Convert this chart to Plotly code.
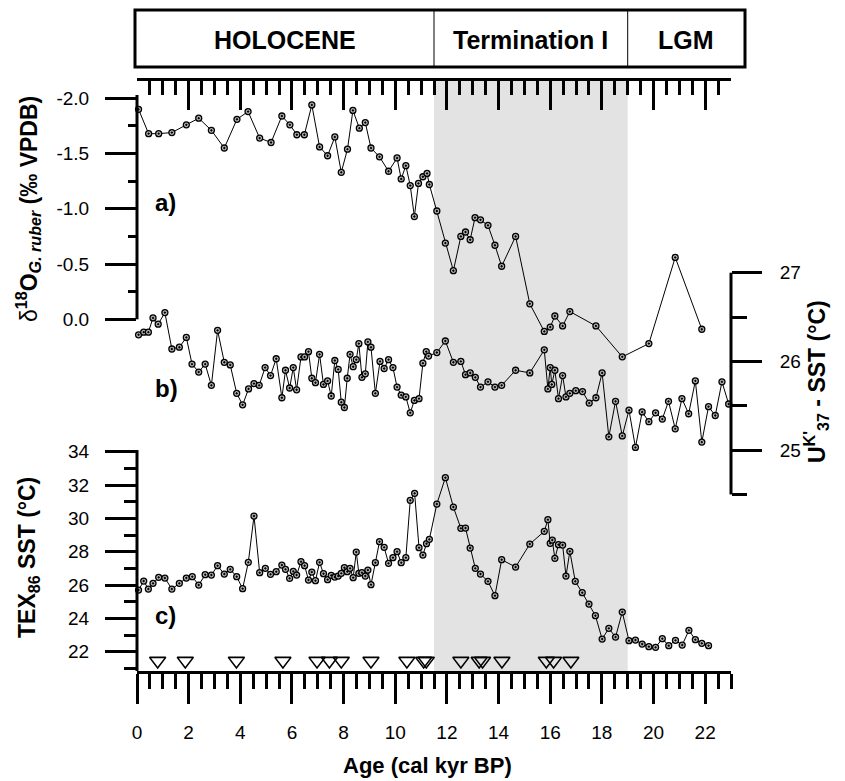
import plotly.graph_objects as go

# ---------------- data ----------------
age_d18o = [0.06,0.45,0.84,1.35,1.91,2.39,2.88,3.38,3.87,4.30,4.75,5.19,5.61,5.92,6.19,6.48,6.77,7.07,7.38,7.66,
            7.91,8.15,8.36,8.61,8.84,9.06,9.39,9.74,10.07,10.23,10.41,10.58,10.74,10.90,11.07,11.23,11.32,11.61,11.94,12.25,
            12.54,12.72,12.90,13.09,13.30,13.59,13.86,14.12,14.66,15.21,15.77,16.00,16.18,16.48,16.76,17.77,18.79,19.82,20.84,21.87]
d18o = [-1.90,-1.68,-1.68,-1.69,-1.76,-1.82,-1.71,-1.55,-1.81,-1.88,-1.64,-1.60,-1.84,-1.76,-1.67,-1.67,-1.94,-1.56,-1.48,-1.65,
        -1.33,-1.54,-1.89,-1.73,-1.78,-1.55,-1.47,-1.34,-1.46,-1.27,-1.39,-1.21,-0.93,-1.23,-1.29,-1.32,-1.22,-0.98,-0.69,-0.44,
        -0.75,-0.79,-0.72,-0.92,-0.90,-0.85,-0.67,-0.48,-0.75,-0.14,0.11,0.07,-0.03,0.06,-0.07,0.06,0.34,0.22,-0.56,0.09]

age_uk = [0.06,0.26,0.44,0.62,0.82,1.08,1.35,1.64,1.91,2.13,2.39,2.64,2.88,3.12,3.38,3.61,3.86,4.09,4.32,4.53,
          4.73,4.96,5.17,5.39,5.61,5.75,5.91,6.05,6.18,6.35,6.49,6.64,6.77,6.91,7.07,7.22,7.38,7.52,7.66,7.79,
          7.91,8.03,8.14,8.25,8.37,8.49,8.59,8.71,8.84,8.94,9.06,9.23,9.41,9.57,9.74,9.91,10.07,10.23,10.41,10.58,
          10.74,10.92,11.07,11.20,11.29,11.61,11.94,12.25,12.54,12.72,12.90,13.10,13.30,13.59,13.86,14.12,14.66,15.21,15.77,15.91,
          16.00,16.06,16.18,16.32,16.48,16.61,16.76,16.99,17.25,17.51,17.77,18.01,18.27,18.53,18.79,19.05,19.30,19.56,19.82,20.08,
          20.34,20.58,20.84,21.10,21.36,21.62,21.87,22.13,22.39,22.65,22.91]
uk37 = [26.30,26.33,26.33,26.49,26.42,26.55,26.14,26.16,26.27,25.97,25.88,25.97,25.73,26.35,25.99,25.96,25.64,25.51,25.69,25.75,
        25.73,25.93,25.84,26.03,25.59,25.90,25.70,25.93,25.68,26.05,26.05,26.11,25.81,25.76,26.08,25.74,25.78,25.61,26.01,25.91,
        25.54,25.48,25.81,26.08,25.94,26.02,26.20,25.82,25.86,26.22,26.16,25.64,26.00,25.92,26.02,25.93,25.71,25.62,25.60,25.42,
        25.56,25.58,25.98,26.11,26.06,26.10,26.23,25.99,26.00,25.85,25.87,25.82,25.71,25.77,25.71,25.73,25.90,25.87,26.13,25.69,
        25.93,25.74,25.90,25.58,25.84,25.60,25.64,25.67,25.66,25.53,25.59,25.87,25.15,25.55,25.16,25.45,25.03,25.43,25.32,25.42,
        25.35,25.55,25.24,25.58,25.41,25.78,25.09,25.49,25.39,25.77,25.52]

age_tex = [0.06,0.26,0.44,0.62,0.84,1.08,1.35,1.64,1.91,2.14,2.39,2.64,2.88,3.12,3.38,3.61,3.86,4.09,4.31,4.53,
           4.75,4.97,5.17,5.39,5.61,5.75,5.91,6.05,6.18,6.35,6.49,6.64,6.77,6.91,7.07,7.22,7.38,7.52,7.66,7.79,
           7.91,8.03,8.14,8.25,8.37,8.49,8.59,8.71,8.84,8.94,9.06,9.23,9.39,9.57,9.74,9.91,10.07,10.23,10.41,10.58,
           10.75,10.92,11.07,11.21,11.32,11.61,11.94,12.25,12.54,12.72,12.90,13.10,13.30,13.59,13.86,14.12,14.66,15.21,15.77,15.91,
           16.00,16.08,16.18,16.32,16.48,16.61,16.76,16.97,17.24,17.50,17.75,18.01,18.27,18.53,18.79,19.05,19.30,19.56,19.82,20.08,
           20.34,20.59,20.85,21.11,21.37,21.62,21.87,22.13]
tex86 = [25.70,26.24,25.76,26.10,26.46,26.42,25.76,26.10,26.42,26.50,26.00,26.62,26.60,27.16,26.66,26.94,26.50,25.78,27.36,30.14,
         26.74,27.00,26.64,26.80,27.20,26.94,26.40,26.82,26.60,27.40,27.16,26.30,26.78,26.26,27.36,26.68,26.32,26.58,26.48,26.54,
         26.70,27.04,26.80,27.00,26.44,27.98,26.70,26.74,26.54,26.90,26.02,27.34,28.60,28.26,27.30,27.64,28.00,27.34,27.64,31.08,
         31.50,28.24,27.80,28.48,28.74,30.86,32.44,30.68,29.40,29.42,28.22,27.00,26.66,26.22,25.36,27.52,27.08,28.46,29.22,29.92,
         28.50,28.70,27.60,28.42,28.40,26.54,28.02,26.22,25.54,24.86,24.16,22.76,23.40,22.88,24.38,22.66,22.70,22.46,22.30,22.26,
         22.78,22.36,22.68,22.40,23.28,22.72,22.50,22.36]

dating_ages = [0.80,1.87,3.85,5.65,6.97,7.45,7.91,9.06,10.45,11.10,11.20,12.54,13.25,13.38,14.13,15.85,16.13,16.80]
dating_level = 21.45

period_names = ["HOLOCENE", "Termination I", "LGM"]
period_bounds = [11.5, 19.0]          # kyr BP
shade_range = [11.5, 19.0]

x_ticks = list(range(0, 23, 2))
d18o_ticks = [-2.0, -1.5, -1.0, -0.5, 0.0]
uk_ticks = [25, 26, 27]
tex_ticks = [22, 24, 26, 28, 30, 32, 34]

# ---------------- layout geometry (page pixels; page body has an 8px margin) ----------------
BODY = 8
W, H = 845 - 2 * BODY, 781 - BODY
P_L, P_R, P_T, P_B = 137, 731, 81, 671          # plot area in page pixels
L, T = P_L - BODY, P_T - BODY
R = W - (P_R - BODY)
B = H - (P_B - BODY)


def px(x):
    return (x - P_L) / (P_R - P_L)


def py(y):
    return (P_B - y) / (P_B - P_T)


FONT = "Liberation Sans, Arial, sans-serif"
BLACK = "#000000"

line_style = dict(color=BLACK, width=1)
circ = dict(symbol="circle-dot", size=6, color="#b4b4b4", line=dict(color=BLACK, width=1.3))

fig = go.Figure()

fig.add_trace(go.Scatter(x=age_d18o, y=d18o, mode="lines+markers", line=line_style, marker=circ,
                         yaxis="y", xaxis="x", cliponaxis=False, showlegend=False))
fig.add_trace(go.Scatter(x=age_uk, y=uk37, mode="lines+markers", line=line_style, marker=circ,
                         yaxis="y2", xaxis="x", cliponaxis=False, showlegend=False))
fig.add_trace(go.Scatter(x=age_tex, y=tex86, mode="lines+markers", line=line_style, marker=circ,
                         yaxis="y3", xaxis="x", cliponaxis=False, showlegend=False))
fig.add_trace(go.Scatter(x=dating_ages, y=[dating_level] * len(dating_ages), mode="markers",
                         marker=dict(symbol="triangle-down-open", size=14, color=BLACK, line=dict(width=1.6)),
                         yaxis="y3", xaxis="x", cliponaxis=False, showlegend=False))
# dummy trace so the top (mirror) axis exists
fig.add_trace(go.Scatter(x=[], y=[], xaxis="x2", yaxis="y", showlegend=False))

tickfont = dict(family=FONT, size=19, color=BLACK)

# y-axis ranges such that values land on the right pixel rows
y1_range = [-2.0 + (P_B - 98.3) / 110.5, -2.0 + (P_T - 98.3) / 110.5]
y2_range = [27 - (P_B - 272.7) / 88.7, 27 - (P_T - 272.7) / 88.7]
y3_range = [34 - (P_B - 451.7) / 16.667, 34 - (P_T - 451.7) / 16.667]

common_y = dict(domain=[0, 1], showgrid=False, zeroline=False, showline=False, ticks="outside",
                tickwidth=2.5, tickcolor=BLACK, tickfont=tickfont, tickmode="array")
minor_x = [v / 2 for v in range(1, 47) if v % 4 != 0]

fig.update_layout(
    width=W, height=H,
    margin=dict(l=L, r=R, t=T, b=B, pad=0),
    paper_bgcolor="white", plot_bgcolor="white",
    font=dict(family=FONT, color=BLACK),
    xaxis=dict(range=[0, 23], domain=[0, 1], anchor="y3", showgrid=False, zeroline=False,
               showline=True, linewidth=2.5, linecolor=BLACK, mirror=False,
               ticks="outside", ticklen=30, tickwidth=2.5, tickcolor=BLACK,
               tickmode="array", tickvals=x_ticks, ticktext=[str(v) for v in x_ticks],
               tickfont=dict(family=FONT, size=19, color=BLACK), ticklabelstandoff=12,
               minor=dict(tickmode="array", tickvals=minor_x,
                          ticklen=15, tickwidth=2.5, tickcolor=BLACK, ticks="outside")),
    xaxis2=dict(range=[0, 23], matches="x", overlaying="x", side="top", anchor="y", showgrid=False,
                zeroline=False, showline=True, linewidth=2.5, linecolor=BLACK,
                ticks="inside", ticklen=29, tickwidth=2.5, tickcolor=BLACK, showticklabels=False,
                tickmode="array", tickvals=x_ticks,
                minor=dict(tickmode="array", tickvals=minor_x,
                           ticklen=14, tickwidth=2.5, tickcolor=BLACK, ticks="inside")),
    yaxis=dict(common_y, range=y1_range, anchor="x", side="left", ticklen=31,
               tickvals=d18o_ticks, ticktext=["-2.0", "-1.5", "-1.0", "-0.5", "0.0"], ticklabelstandoff=12,
               minor=dict(tickmode="array", tickvals=[-1.75, -1.25, -0.75, -0.25], ticklen=8,
                          tickwidth=2.5, tickcolor=BLACK, ticks="outside")),
    yaxis2=dict(common_y, range=y2_range, anchor="x", side="right", overlaying="y", ticklen=30,
                tickvals=uk_ticks, ticktext=[str(v) for v in uk_ticks], ticklabelstandoff=14,
                minor=dict(tickmode="array", tickvals=[24.5, 25.5, 26.5], ticklen=15,
                           tickwidth=2.5, tickcolor=BLACK, ticks="outside")),
    yaxis3=dict(common_y, range=y3_range, anchor="x", side="left", overlaying="y", ticklen=31,
                tickvals=tex_ticks, ticktext=[str(v) for v in tex_ticks], ticklabelstandoff=12,
                minor=dict(tickmode="array", tickvals=[21, 23, 25, 27, 29, 31, 33], ticklen=12,
                           tickwidth=2.5, tickcolor=BLACK, ticks="outside")),
)

shapes = []
# grey Termination I band
shapes.append(dict(type="rect", xref="x", yref="paper", x0=shade_range[0], x1=shade_range[1], y0=0, y1=1,
                   fillcolor="#e3e3e3", line=dict(width=0), layer="below"))
# partial y-axis lines
shapes.append(dict(type="line", xref="paper", yref="y", x0=0, x1=0, y0=0.0, y1=-2.03,
                   line=dict(color=BLACK, width=3)))
shapes.append(dict(type="line", xref="paper", yref="y3", x0=0, x1=0, y0=y3_range[0], y1=34.1,
                   line=dict(color=BLACK, width=3)))
shapes.append(dict(type="line", xref="paper", yref="y2", x0=1, x1=1, y0=24.5, y1=27.0,
                   line=dict(color=BLACK, width=3)))
# period box
box_l, box_r, box_t, box_b = 135, 745, 10, 67
shapes.append(dict(type="rect", xref="paper", yref="paper", x0=px(box_l), x1=px(box_r), y0=py(box_b), y1=py(box_t),
                   line=dict(color=BLACK, width=3), fillcolor="rgba(0,0,0,0)"))
for b in period_bounds:
    shapes.append(dict(type="line", xref="x", yref="paper", x0=b, x1=b, y0=py(box_b), y1=py(box_t),
                       line=dict(color=BLACK, width=1)))
fig.update_layout(shapes=shapes)

ann = []
xl = px(box_l) * 23
xr = px(box_r) * 23
edges = [xl] + period_bounds + [xr]
for i, name in enumerate(period_names):
    ann.append(dict(x=(edges[i] + edges[i + 1]) / 2, y=py(40), xref="x", yref="paper", text=f"<b>{name}</b>",
                    showarrow=False, font=dict(family=FONT, size=25, color=BLACK), xanchor="center", yanchor="middle"))

# panel letters
for lab, (lx, ly) in zip(["a)", "b)", "c)"], [(165, 203), (166, 388), (165, 615)]):
    ann.append(dict(x=px(lx), y=py(ly), xref="paper", yref="paper", text=f"<b>{lab}</b>", showarrow=False,
                    font=dict(family=FONT, size=24, color=BLACK), xanchor="center", yanchor="middle"))

# axis titles
ann.append(dict(x=px(28), y=py(209), xref="paper", yref="paper", textangle=-90, showarrow=False,
                text="<span style='font-weight:normal'>δ</span><b><sup>18</sup>O<sub><i>G. ruber</i></sub> (‰ VPDB)</b>",
                font=dict(family=FONT, size=23, color=BLACK), xanchor="center", yanchor="middle"))
ann.append(dict(x=px(28), y=py(558), xref="paper", yref="paper", textangle=-90, showarrow=False,
                text="<b>TEX<sub>86</sub> SST (°C)</b>",
                font=dict(family=FONT, size=23, color=BLACK), xanchor="center", yanchor="middle"))
ann.append(dict(x=px(816), y=py(382), xref="paper", yref="paper", textangle=-90, showarrow=False,
                text="<b>U<sup>K'</sup><sub>37</sub> - SST (°C)</b>",
                font=dict(family=FONT, size=23, color=BLACK), xanchor="center", yanchor="middle"))
ann.append(dict(x=px(427), y=py(765), xref="paper", yref="paper", showarrow=False,
                text="<b>Age (cal kyr BP)</b>",
                font=dict(family=FONT, size=22, color=BLACK), xanchor="center", yanchor="middle"))
fig.update_layout(annotations=ann)

fig.write_html("out.html")
